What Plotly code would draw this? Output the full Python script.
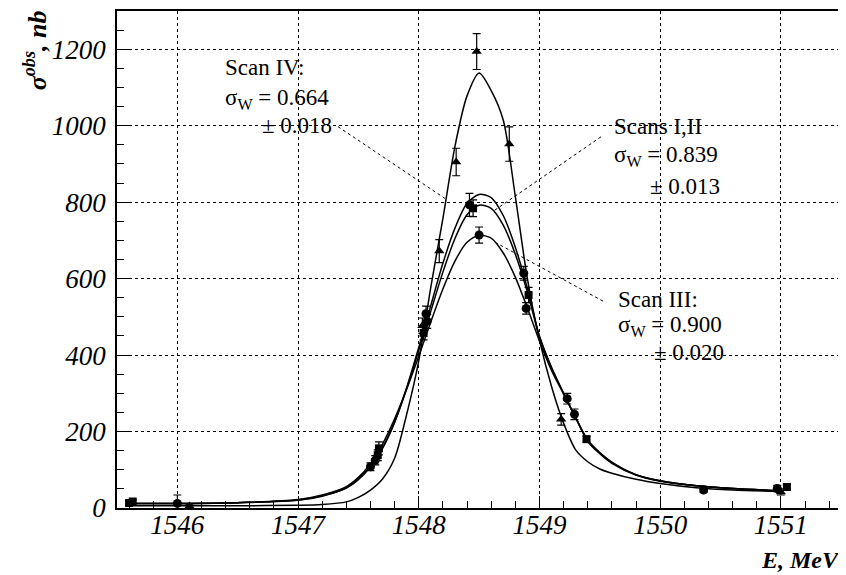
import plotly.graph_objects as go

# ---------------- data ----------------
# fitted curves
E_fit = [1545.6, 1546.0, 1546.5, 1547.0, 1547.2, 1547.4, 1547.5, 1547.6, 1547.7, 1547.8, 1547.9,
         1548.0, 1548.1, 1548.2, 1548.3, 1548.4, 1548.5, 1548.6, 1548.7, 1548.8, 1548.9,
         1549.0, 1549.1, 1549.2, 1549.3, 1549.4, 1549.5, 1549.6, 1549.8, 1550.0, 1550.3,
         1550.6, 1551.0]
fit_scan4 = [6, 6, 6, 7, 9, 16, 28, 47, 76, 130, 245,
             385, 578, 757, 946, 1078, 1138, 1092, 1015, 815, 600,
             440, 318, 222, 152, 121, 102, 91, 75, 64, 53,
             47, 43]
fit_scan1 = [12, 12, 14, 20, 31, 52, 74, 108, 156, 224, 315,
             420, 530, 640, 732, 797, 820, 812, 765, 682, 575,
             450, 368, 300, 236, 174, 142, 117, 86, 70, 58,
             51, 45]
fit_scan2 = [12, 12, 14, 21, 32, 53, 76, 110, 158, 225, 312,
             412, 515, 617, 705, 767, 792, 784, 740, 664, 565,
             448, 366, 300, 237, 176, 144, 119, 87, 71, 58,
             51, 45]
fit_scan3 = [12, 12, 14, 22, 34, 56, 80, 116, 167, 233, 311,
             397, 487, 573, 646, 695, 713, 706, 667, 604, 523,
             437, 360, 298, 236, 178, 145, 120, 87, 71, 58,
             51, 45]

# Scan IV points (triangles)
tri_E = [1546.1, 1548.03, 1548.17, 1548.31, 1548.48, 1548.75, 1549.18, 1551.0]
tri_s = [5, 477, 672, 905, 1194, 952, 232, 42]
tri_e = [3, 20, 30, 36, 47, 45, 15, 8]

# Scan III / other points (circles)
cir_E = [1546.0, 1547.60, 1547.64, 1548.06, 1548.07, 1548.42, 1548.50, 1548.87,
         1548.89, 1549.23, 1549.29, 1550.36, 1550.97]
cir_s = [12, 108, 125, 508, 488, 793, 714, 614, 522, 286, 245, 47, 51]
cir_e = [22, 10, 12, 20, 18, 30, 21, 18, 15, 14, 14, 6, 8]

# Scans I,II points (squares)
sq_E = [1545.60, 1545.63, 1547.66, 1547.67, 1548.04, 1548.45, 1548.91, 1549.39, 1551.05]
sq_s = [13, 17, 138, 156, 458, 784, 557, 180, 55]
sq_e = [5, 5, 14, 17, 18, 22, 20, 8, 8]

x_ticks = [1546, 1547, 1548, 1549, 1550, 1551]
y_ticks = [0, 200, 400, 600, 800, 1000, 1200]

# ---------------- figure ----------------
fig = go.Figure()

for ys in [fit_scan4, fit_scan1, fit_scan2, fit_scan3]:
    fig.add_trace(go.Scatter(x=E_fit, y=ys, mode="lines",
                             line=dict(color="black", width=1.5, shape="spline", smoothing=0.8),
                             showlegend=False, hoverinfo="skip"))

def pts(x, y, e, symbol, size):
    fig.add_trace(go.Scatter(x=x, y=y, mode="markers",
                             marker=dict(symbol=symbol, size=size, color="black"),
                             error_y=dict(type="data", array=e, visible=True,
                                          color="black", thickness=1.2, width=4),
                             showlegend=False))

pts(tri_E, tri_s, tri_e, "triangle-up", 9)
pts(cir_E, cir_s, cir_e, "circle", 9)
pts(sq_E, sq_s, sq_e, "square", 8)

font_serif = "Times New Roman, Liberation Serif, serif"

fig.update_xaxes(range=[1545.5, 1551.49], tickvals=x_ticks,
                 ticktext=[str(v) for v in x_ticks],
                 ticks="inside", ticklen=12, tickwidth=1, tickcolor="black",
                 minor=dict(dtick=0.2, ticks="inside", ticklen=7, tickcolor="black", showgrid=False),
                 showgrid=True, gridcolor="black", griddash="dot", gridwidth=1,
                 showline=True, linecolor="black", linewidth=1.5, mirror=True,
                 zeroline=False, ticklabelstandoff=-8,
                 tickfont=dict(family=font_serif, size=27, color="black", style="italic"))
fig.update_yaxes(range=[0, 1300], tickvals=y_ticks,
                 ticktext=[str(v) for v in y_ticks],
                 ticks="inside", ticklen=12, tickwidth=1, tickcolor="black",
                 minor=dict(dtick=50, tick0=0, ticks="inside", ticklen=7, tickcolor="black", showgrid=False),
                 showgrid=True, gridcolor="black", griddash="dot", gridwidth=1,
                 showline=True, linecolor="black", linewidth=1.5, mirror=True,
                 zeroline=False, ticklabelstandoff=4,
                 tickfont=dict(family=font_serif, size=27, color="black", style="italic"))

txt_font = dict(family=font_serif, size=23, color="black")
labels = [
    ("Scan IV:", 1546.378, 1151),
    ("σ<sub>W</sub> = 0.664", 1546.378, 1070),
    ("± 0.018", 1546.685, 1000),
    ("Scans I,II", 1549.601, 997),
    ("σ<sub>W</sub> = 0.839", 1549.601, 922),
    ("± 0.013", 1549.899, 841),
    ("Scan III:", 1549.634, 546),
    ("σ<sub>W</sub> = 0.900", 1549.634, 477),
    ("± 0.020", 1549.932, 407),
]
for t, x, y in labels:
    fig.add_annotation(x=x, y=y, xref="x", yref="y", text=t, showarrow=False,
                       xanchor="left", yanchor="middle", font=txt_font)

pointers = [
    (1547.331, 997.5, 1548.217, 809.7),
    (1549.51, 971, 1548.615, 775.8),
    (1549.527, 541, 1548.648, 692.4),
]
for x0, y0, x1, y1 in pointers:
    fig.add_shape(type="line", x0=x0, y0=y0, x1=x1, y1=y1, xref="x", yref="y",
                  line=dict(color="black", width=1, dash="dot"))

fig.add_annotation(xref="paper", yref="paper", x=1.003, y=-0.105, xanchor="right", yanchor="middle",
                   text="E, MeV", showarrow=False,
                   font=dict(family=font_serif, size=24, color="black", weight="bold", style="italic"))
fig.add_annotation(xref="paper", yref="paper", x=-0.113, y=1.006, xanchor="center", yanchor="top",
                   text="σ<sup>obs</sup>, nb", showarrow=False, textangle=-90,
                   font=dict(family=font_serif, size=26, color="black", weight="bold", style="italic"))

# the page adds an 8px body margin, so the figure is drawn 8px in from the top-left
fig.update_layout(width=838, height=567, margin=dict(l=109, r=6, t=1, b=67),
                  plot_bgcolor="white", paper_bgcolor="white", showlegend=False)

fig.write_html("out.html")
